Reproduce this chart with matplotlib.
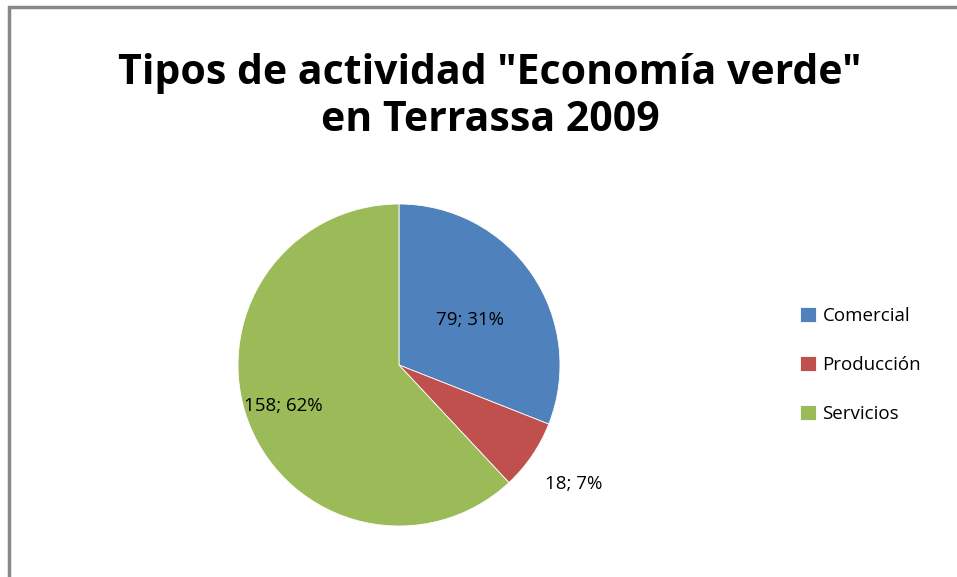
import matplotlib
matplotlib.use("Agg")
import matplotlib.pyplot as plt
from matplotlib.patches import Rectangle
import numpy as np

# --- datos -------------------------------------------------------------------
categorias = ["Comercial", "Producción", "Servicios"]
valores = [79, 18, 158]
colores = ["#4F81BD", "#C0504D", "#9BBB59"]
titulo = 'Tipos de actividad "Economía verde"\nen Terrassa 2009'

W, H = 957, 577
fig = plt.figure(figsize=(W / 100, H / 100), dpi=100)
fig.patch.set_facecolor("white")

# marco del gráfico
fig.patches.append(Rectangle((9 / W, -0.02), 1.1, (H - 7) / H + 0.02,
                             transform=fig.transFigure, fill=False,
                             edgecolor="#888888", linewidth=2.5))

fig.text(490 / W, 1 - 97 / H, titulo, ha="center", va="center",
         fontsize=29.5, fontweight="bold", family="Open Sans",
         linespacing=1.2, color="black")

# --- pastel ------------------------------------------------------------------
cx, cy, r = 399, 365, 161
ax = fig.add_axes([(cx - r) / W, (H - cy - r) / H, 2 * r / W, 2 * r / H])
wedges, _ = ax.pie(valores, colors=colores, startangle=90, counterclock=False,
                   radius=1, wedgeprops=dict(linewidth=0.6, edgecolor="white"))
ax.set_xlim(-1, 1)
ax.set_ylim(-1, 1)
ax.set_aspect("auto")
ax.axis("off")

total = sum(valores)
# posiciones de las etiquetas (radio relativo, desplazamiento angular en grados)
pos_etiquetas = [(0.52, -2), (1.31, 0), (0.76, -2)]
for w, v, (dist, dang) in zip(wedges, valores, pos_etiquetas):
    ang = np.deg2rad((w.theta1 + w.theta2) / 2 + dang)
    pct = round(100 * v / total)
    ax.text(dist * np.cos(ang), dist * np.sin(ang), f"{v}; {pct}%",
            ha="center", va="center", fontsize=13.5, family="Open Sans",
            clip_on=False)

# --- leyenda -----------------------------------------------------------------
ax.legend(wedges, categorias, loc="center left",
          bbox_to_anchor=(783 / W, 1 - 365 / H), bbox_transform=fig.transFigure,
          frameon=False, prop=dict(family="Open Sans", size=13.5),
          handlelength=0.85, handleheight=0.85, handletextpad=0.35,
          labelspacing=1.65)

fig.savefig("out.png", dpi=100)
